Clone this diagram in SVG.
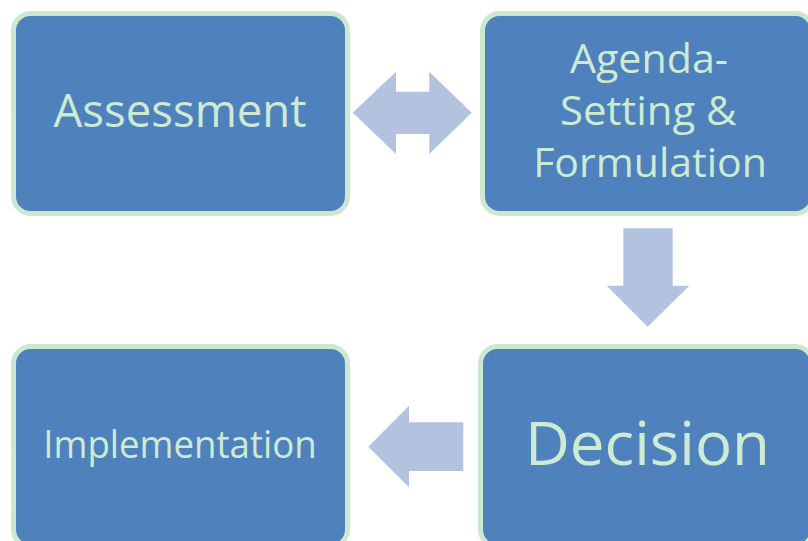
<svg xmlns="http://www.w3.org/2000/svg" width="808" height="541" viewBox="0 0 808 541">
<style>
.box{fill:#4F81BD;stroke:#CDE8D0;stroke-width:5}
.lbl{font-family:"Open Sans","Noto Sans","Liberation Sans",sans-serif;fill:#CDEBD2;text-anchor:middle}
.arr{fill:#B3C3DF}
</style>
<rect width="808" height="541" fill="#FFFFFF"/>
<g id="assessment">
<rect class="box" x="13.5" y="13.5" width="334" height="200" rx="17"/>
<text class="lbl" x="180" y="126.7" font-size="45" textLength="253" lengthAdjust="spacingAndGlyphs">Assessment</text>
</g>
<g id="agenda">
<rect class="box" x="482.5" y="13.5" width="330" height="200" rx="17"/>
<text class="lbl" x="649" y="73.3" font-size="40" textLength="158" lengthAdjust="spacingAndGlyphs">Agenda-</text>
<text class="lbl" x="648.3" y="125" font-size="40" textLength="176.7" lengthAdjust="spacingAndGlyphs">Setting &amp;</text>
<text class="lbl" x="650" y="176.7" font-size="40" textLength="233.7" lengthAdjust="spacingAndGlyphs">Formulation</text>
</g>
<g id="implementation">
<rect class="box" x="13.5" y="346.5" width="334" height="200" rx="17"/>
<text class="lbl" x="180" y="458.3" font-size="37.4" textLength="273.4" lengthAdjust="spacingAndGlyphs">Implementation</text>
</g>
<g id="decision">
<rect class="box" x="480.5" y="346.5" width="332" height="200" rx="17"/>
<text class="lbl" x="647.5" y="465" font-size="60.6" textLength="245" lengthAdjust="spacingAndGlyphs">Decision</text>
</g>
<g id="connectors">
<polygon class="arr" points="352.7,112.7 396,71.7 396,91.7 429.3,91.7 429.3,71.7 471.7,112.7 429.3,154 429.3,134 396,134 396,154"/>
<polygon class="arr" points="623.3,228.3 672.7,228.3 672.7,285.7 689.3,285.7 647.7,326.7 606.7,285.7 623.3,285.7"/>
<polygon class="arr" points="368.3,446.7 409,405.7 409,422.3 463.3,422.3 463.3,471 409,471 409,487.3"/>
</g>
</svg>
